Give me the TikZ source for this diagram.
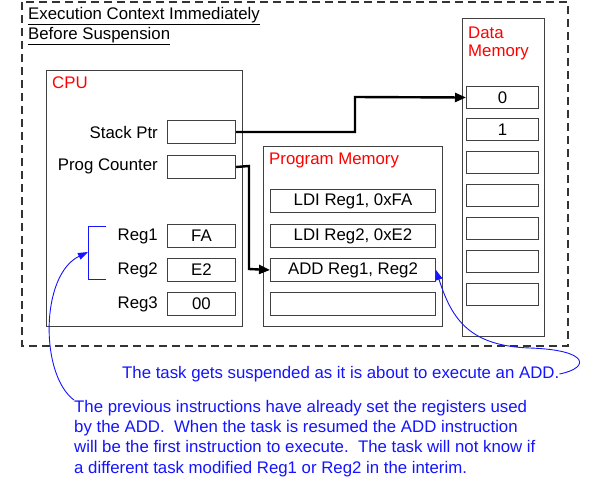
\documentclass[tikz,border=0pt]{standalone}
\usepackage{fontspec}
\setmainfont{Liberation Sans}
\usetikzlibrary{arrows.meta}
\definecolor{ttred}{RGB}{255,0,0}
\definecolor{ttblue}{RGB}{20,20,255}
\begin{document}
\begin{tikzpicture}[x=1pt,y=-1pt,font=\fontsize{16.8}{20}\selectfont,
  box/.style={draw=black!75,line width=1pt},
  cell/.style={draw=black!75,line width=1pt,minimum width=68pt,minimum height=23pt,inner sep=0pt,anchor=north west},
  pcell/.style={cell,minimum width=165pt},
  dcell/.style={cell,minimum width=72pt,minimum height=22pt},
  lbl/.style={anchor=east,inner sep=0pt},
  title/.style={anchor=west,inner sep=0pt,text=ttred},
  conn/.style={line width=2.4pt,-{Triangle[length=11pt,width=9pt]}},
  note/.style={ttblue,line width=0.9pt}]
\useasboundingbox (0,0) rectangle (600,480);
\draw[line width=1.3pt,black!80,dash pattern=on 8pt off 5pt] (22,2) rectangle (568,346);
\node[anchor=west,inner sep=0pt] (t1) at (28,16) {\underline{Execution Context Immediately}};
\node[anchor=west,inner sep=0pt] (t2) at (28,36) {\underline{Before Suspension}};
% Data memory
\draw[box] (462,18) rectangle (544,336);
\node[title] (dm1) at (468,33) {Data};
\node[title] (dm2) at (468,52) {Memory};
\node[dcell] (d0) at (466,86) {0};
\node[dcell] (d1) at (466,118) {1};
\node[dcell] (d2) at (466,151) {};
\node[dcell] (d3) at (466,184) {};
\node[dcell] (d4) at (466,217) {};
\node[dcell] (d5) at (466,250) {};
\node[dcell] (d6) at (466,283) {};
% CPU
\draw[box] (46,70) rectangle (242,326);
\node[title] (cpu) at (52,83) {CPU};
\node[cell] (sp) at (167,120) {};
\node[lbl] (spl) at (158,132) {Stack Ptr};
\node[cell] (pc) at (167,155) {};
\node[lbl] (pcl) at (158,166) {Prog Counter};
\node[cell] (r1) at (167,224) {FA};
\node[lbl] (r1l) at (158,236) {Reg1};
\node[cell] (r2) at (167,258) {E2};
\node[lbl] (r2l) at (158,270) {Reg2};
\node[cell] (r3) at (167,292) {00};
\node[lbl] (r3l) at (158,304) {Reg3};
% Program memory
\draw[box] (263,146) rectangle (442,326);
\node[title] (pm) at (269,160) {Program Memory};
\node[pcell] (p1) at (270,189) {LDI Reg1, 0xFA};
\node[pcell] (p2) at (270,224) {LDI Reg2, 0xE2};
\node[pcell] (p3) at (270,258) {ADD Reg1, Reg2};
\node[pcell] (p4) at (270,292) {};
% connectors
\draw[conn] (sp.east) -- (355,132) -- (355,97) -- (d0.west);
\draw[conn] (pc.east) -- (249,166) -- (249,269) -- (p3.west);
% bracket
\coordinate (bk) at (88,252);
\draw[note] (106,226) -- (88,226) -- (88,279) -- (106,279);
% notes
\node[anchor=west,inner sep=0pt,text=ttblue] (n1) at (122,374) {The task gets suspended as it is about to execute an ADD.};
\node[anchor=north west,inner sep=0pt,text=ttblue,align=left,font=\fontsize{16.8}{20.3}\selectfont] (n2) at (74,400) {The previous instructions have already set the registers used\\by the ADD.\ \ When the task is resumed the ADD instruction\\will be the first instruction to execute.\ \ The task will not know if\\a different task modified Reg1 or Reg2 in the interim.};
\draw[note,-{Triangle[length=10pt,width=7pt]}] (n1.east) .. controls (590,368) and (590,350) .. (530,348) .. controls (470,346) and (452,320) .. (p3.east);
\draw[note,-{Triangle[length=10pt,width=7pt]}] (n2.north west) .. controls (40,375) and (40,275) .. (bk);
\end{tikzpicture}
\end{document}
